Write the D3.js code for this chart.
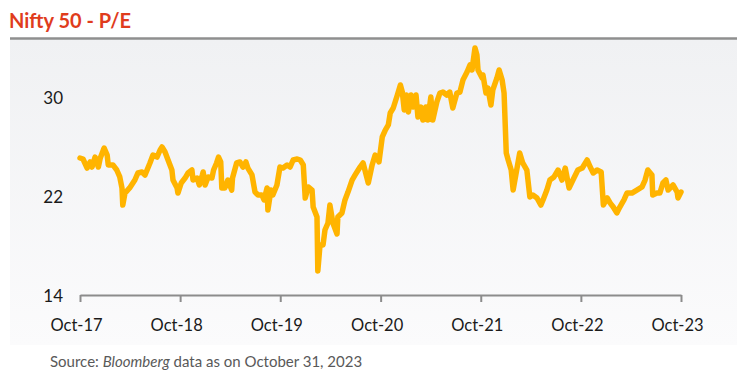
<!DOCTYPE html>
<html>
<head>
<meta charset="utf-8">
<script src="https://cdn.jsdelivr.net/npm/d3@7"></script>
<style>
  html, body { margin: 0; padding: 0; background: #ffffff; }
  svg { display: block; }
</style>
</head>
<body>
<svg id="chart" width="754" height="380"></svg>
<script>
// ---- data ----
const title = "Nifty 50 - P/E";
const dates = [
"2017-10-31","2017-11-11","2017-11-26","2017-12-07","2017-12-14","2017-12-25","2018-01-06","2018-01-13","2018-01-27","2018-02-07",
"2018-02-11","2018-02-28","2018-03-14","2018-03-25","2018-04-02","2018-04-05","2018-04-13","2018-04-30","2018-05-19","2018-05-30",
"2018-06-14","2018-06-25","2018-07-13","2018-07-24","2018-08-08","2018-08-19","2018-08-26","2018-09-06","2018-09-17","2018-10-01",
"2018-10-05","2018-10-20","2018-10-23","2018-11-04","2018-11-18","2018-11-29","2018-12-13","2018-12-17","2019-01-01","2019-01-09",
"2019-01-20","2019-01-23","2019-01-30","2019-02-10","2019-02-24","2019-03-02","2019-03-13","2019-03-20","2019-03-28","2019-04-01",
"2019-04-12","2019-04-23","2019-05-07","2019-05-10","2019-05-25","2019-06-06","2019-06-17","2019-06-28","2019-07-05","2019-07-20",
"2019-07-31","2019-08-11","2019-08-25","2019-09-02","2019-09-13","2019-09-16","2019-09-27","2019-10-04","2019-10-19","2019-10-30",
"2019-11-10","2019-11-25","2019-12-06","2019-12-17","2020-01-01","2020-01-12","2020-01-23","2020-01-30","2020-02-10","2020-02-24",
"2020-02-28","2020-03-13","2020-03-16","2020-03-24","2020-04-04","2020-04-11","2020-04-22","2020-04-29","2020-05-10","2020-05-25",
"2020-05-28","2020-06-12","2020-06-23","2020-07-04","2020-07-19","2020-07-30","2020-08-17","2020-08-28","2020-09-16","2020-09-30",
"2020-10-11","2020-10-25","2020-11-06","2020-11-17","2020-11-28","2020-12-05","2020-12-16","2020-12-31","2021-01-11","2021-01-18",
"2021-01-25","2021-02-02","2021-02-09","2021-02-19","2021-02-26","2021-03-09","2021-03-16","2021-03-27","2021-04-03","2021-04-14",
"2021-04-21","2021-05-02","2021-05-09","2021-05-24","2021-06-04","2021-06-15","2021-06-29","2021-07-10","2021-07-21","2021-08-05",
"2021-08-16","2021-08-27","2021-09-11","2021-09-22","2021-09-29","2021-10-10","2021-10-17","2021-10-21","2021-11-05","2021-11-08",
"2021-11-19","2021-11-26","2021-12-07","2021-12-14","2021-12-29","2022-01-06","2022-01-17","2022-01-24","2022-02-01","2022-02-08",
"2022-02-19","2022-02-26","2022-03-11","2022-03-22","2022-04-02","2022-04-17","2022-04-28","2022-05-09","2022-05-24","2022-06-07",
"2022-06-15","2022-06-29","2022-07-10","2022-07-25","2022-08-09","2022-08-23","2022-09-04","2022-09-18","2022-10-02","2022-10-20",
"2022-11-05","2022-11-23","2022-12-04","2022-12-15","2022-12-29","2023-01-13","2023-01-21","2023-02-04","2023-02-15","2023-02-26",
"2023-03-11","2023-03-22","2023-04-06","2023-04-17","2023-05-05","2023-05-23","2023-06-11","2023-06-22","2023-07-02","2023-07-17",
"2023-07-20","2023-08-04","2023-08-15","2023-08-26","2023-09-06","2023-09-14","2023-10-02","2023-10-17","2023-10-20","2023-10-31"
];
const peValues = [
25.07,24.99,24.26,24.75,24.34,25.15,24.34,25.07,25.88,25.31,
24.51,24.51,24.10,23.54,22.65,21.27,22.24,22.65,23.29,23.86,
23.94,23.70,24.67,25.31,25.15,25.72,25.96,25.56,24.91,24.10,
23.29,22.65,22.24,23.05,23.45,23.86,24.10,23.29,23.45,22.89,
23.70,23.94,22.89,23.54,23.45,24.10,24.67,25.15,24.75,22.65,
22.65,23.29,22.48,23.45,24.67,24.75,24.34,24.75,24.26,23.70,
22.32,22.08,22.08,21.68,22.65,20.87,22.48,22.08,22.89,24.34,
24.26,24.51,24.34,24.91,24.99,24.91,24.51,21.84,22.73,22.48,
21.11,20.30,15.94,18.04,18.04,19.25,19.82,21.27,19.82,18.93,
20.30,20.63,21.68,22.32,23.29,23.70,24.34,24.67,23.05,24.51,
25.31,24.75,26.77,27.33,27.74,28.71,29.11,30.16,30.97,30.40,
28.95,30.16,28.79,30.16,29.19,30.16,28.38,29.19,28.14,29.19,
28.14,30.00,28.14,29.60,30.32,30.40,30.16,30.40,29.11,30.32,
30.40,31.37,32.02,32.59,32.18,33.96,33.39,32.18,31.54,31.78,
30.32,30.73,29.35,30.57,31.54,32.18,31.37,30.32,25.47,24.91,
24.10,22.48,24.10,25.47,24.67,24.10,21.92,22.08,21.84,21.27,
21.68,22.48,23.29,23.54,24.10,23.29,24.26,22.65,23.29,24.10,
24.26,24.91,24.34,23.86,24.10,23.94,21.27,21.84,21.43,21.11,
20.63,21.11,21.68,22.24,22.24,22.48,22.73,23.29,24.10,23.70,
22.08,22.24,22.24,23.05,23.29,22.48,22.89,22.32,21.84,22.32
];
const yTicks = [14, 22, 30];
const xTickDates = ["2017-10-31","2018-10-31","2019-10-31","2020-10-31","2021-10-31","2022-10-31","2023-10-31"];
const xTickLabels = ["Oct-17","Oct-18","Oct-19","Oct-20","Oct-21","Oct-22","Oct-23"];
const sourceParts = [["Source: ", false], ["Bloomberg", true], [" data as on October 31, 2023", false]];

// ---- drawing ----
const parse = d3.timeParse("%Y-%m-%d");
const data = dates.map((d, i) => ({ date: parse(d), value: peValues[i] }));

const svg = d3.select("#chart");
const FONT = "Lato, 'Open Sans', sans-serif";

// panel background gradient
const defs = svg.append("defs");
const grad = defs.append("linearGradient").attr("id", "bg").attr("x1", 0).attr("y1", 0).attr("x2", 0).attr("y2", 1);
grad.append("stop").attr("offset", "0%").attr("stop-color", "#f0f1f3");
grad.append("stop").attr("offset", "100%").attr("stop-color", "#fbfbfc");
svg.append("rect").attr("x", 10).attr("y", 39).attr("width", 727).attr("height", 306).attr("fill", "url(#bg)");

// title + rule
svg.append("text").attr("x", 9).attr("y", 27.5)
  .attr("font-family", FONT).attr("font-weight", 700).attr("font-size", 20)
  .attr("fill", "#e03c1c").text(title);
svg.append("line").attr("x1", 10).attr("x2", 737).attr("y1", 38.5).attr("y2", 38.5)
  .attr("stroke", "#8f8f8f").attr("stroke-width", 2.5);

const x = d3.scaleTime()
  .domain([parse(xTickDates[0]), parse(xTickDates[xTickDates.length - 1])])
  .range([80, 681]);
const y = d3.scaleLinear().domain([14, 30]).range([295, 97]);

// x axis
const xAxis = d3.axisBottom(x)
  .tickValues(xTickDates.map(parse))
  .tickFormat((d, i) => xTickLabels[i])
  .tickSizeInner(7).tickSizeOuter(0).tickPadding(0);
const gx = svg.append("g").attr("transform", "translate(0,295)").call(xAxis);
gx.select(".domain").attr("stroke", "#8c8c8c").attr("stroke-width", 2.2);
gx.selectAll(".tick line").attr("stroke", "#8c8c8c").attr("stroke-width", 2);
gx.selectAll(".tick text").attr("font-family", FONT).attr("font-size", 16.5)
  .attr("fill", "#1a1a1a").attr("y", 36).attr("dy", 0).attr("dx", -4);

// y axis (labels only)
const yAxis = d3.axisLeft(y).tickValues(yTicks).tickSize(0).tickPadding(0).tickFormat(d3.format("d"));
const gy = svg.append("g").attr("transform", "translate(63,0)").call(yAxis);
gy.select(".domain").remove();
gy.selectAll(".tick text").attr("font-family", FONT).attr("font-size", 17)
  .attr("fill", "#1a1a1a").attr("x", 0).attr("dy", "0.36em");

// line
const line = d3.line().x(d => x(d.date)).y(d => y(d.value));
svg.append("path").datum(data).attr("d", line)
  .attr("fill", "none").attr("stroke", "#ffb400").attr("stroke-width", 5.5)
  .attr("stroke-linejoin", "round").attr("stroke-linecap", "round");

// source
const src = svg.append("text").attr("x", 50).attr("y", 367)
  .attr("font-family", FONT).attr("font-size", 15).attr("fill", "#595959");
sourceParts.forEach(([t, it]) => {
  src.append("tspan").attr("font-style", it ? "italic" : "normal").text(t);
});
</script>
</body>
</html>
